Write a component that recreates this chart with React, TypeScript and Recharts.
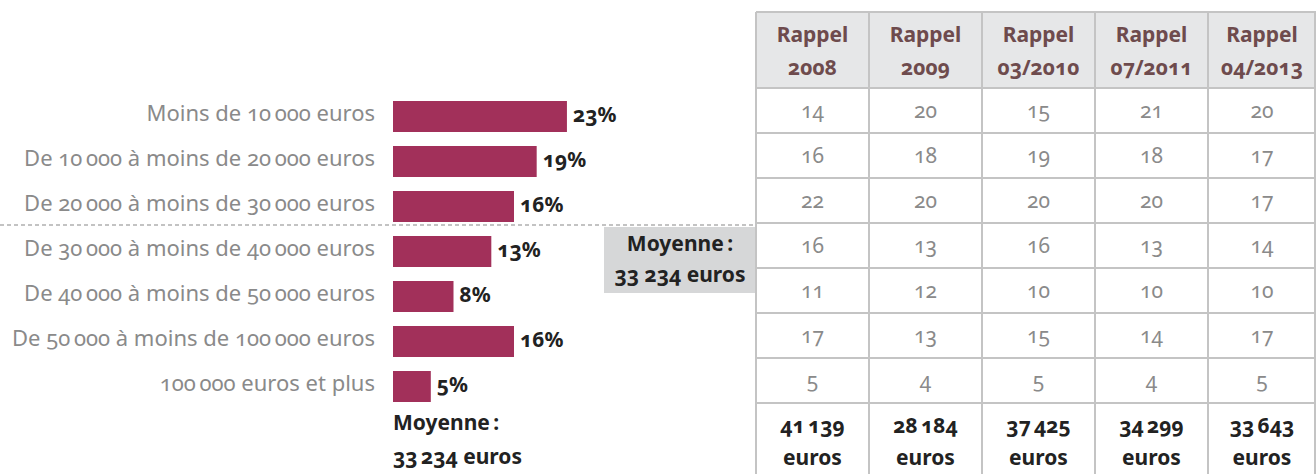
import { BarChart, Bar, XAxis, YAxis, LabelList } from 'recharts';

const categories = [
  'Moins de 10\u202f000 euros',
  'De 10\u202f000 à moins de 20\u202f000 euros',
  'De 20\u202f000 à moins de 30\u202f000 euros',
  'De 30\u202f000 à moins de 40\u202f000 euros',
  'De 40\u202f000 à moins de 50\u202f000 euros',
  'De 50\u202f000 à moins de 100\u202f000 euros',
  '100\u202f000 euros et plus',
];
const shares = [23, 19, 16, 13, 8, 16, 5];

const rappelHeaders = ['2008', '2009', '03/2010', '07/2011', '04/2013'];
const rappel2008 = [14, 16, 22, 16, 11, 17, 5];
const rappel2009 = [20, 18, 20, 13, 12, 13, 4];
const rappel2010 = [15, 19, 20, 16, 10, 15, 5];
const rappel2011 = [21, 18, 20, 13, 10, 14, 4];
const rappel2013 = [20, 17, 17, 14, 10, 17, 5];
const rappelMeans = ['41\u202f139', '28\u202f184', '37\u202f425', '34\u202f299', '33\u202f643'];

const BAR = '#a2305a';
const GRID = '#c4c4c4';
const FONT = '"Noto Sans", "Open Sans", sans-serif';

const data = categories.map((name, i) => ({ name, value: shares[i] }));
const rappelCols = [rappel2008, rappel2009, rappel2010, rappel2011, rappel2013];

const colX = [756, 869, 982, 1095, 1208, 1316];
const headerTop = 12;
const headerBottom = 88;
const rowH = 45;

export default function App() {
  return (
    <div
      style={{
        position: 'absolute',
        left: 0,
        top: 0,
        width: 1316,
        height: 474,
        overflow: 'hidden',
        background: '#fff',
        fontFamily: FONT,
        fontVariantNumeric: 'oldstyle-nums',
      }}
    >
      {/* barres */}
      <div style={{ position: 'absolute', left: 0, top: 0 }}>
        <BarChart
          width={756}
          height={474}
          data={data}
          layout="vertical"
          margin={{ top: 94, right: 0, bottom: 65, left: 0 }}
        >
          <XAxis type="number" domain={[0, 48]} hide />
          <YAxis
            type="category"
            dataKey="name"
            width={393}
            axisLine={false}
            tickLine={false}
            tickSize={0}
            tickMargin={18}
            interval={0}
            tick={{ fill: '#8a8a8a', fontSize: 22, fontFamily: FONT, dy: -3 }}
          />
          <Bar dataKey="value" fill={BAR} barSize={31} isAnimationActive={false}>
            <LabelList
              dataKey="value"
              position="right"
              offset={6}
              formatter={(v: number) => `${v}%`}
              style={{ fill: '#222', fontSize: 21, fontWeight: 700, fontFamily: FONT, transform: 'translateY(-2px)' }}
            />
          </Bar>
        </BarChart>
      </div>

      {/* séparation moyenne */}
      <svg style={{ position: 'absolute', left: 0, top: 220 }} width={756} height={10}>
        <line x1={0} y1={5} x2={756} y2={5} stroke="#b0b0b0" strokeWidth={1.5} strokeDasharray="4 3" />
      </svg>
      <div
        style={{
          position: 'absolute',
          left: 604,
          top: 227,
          width: 152,
          height: 66,
          background: '#d6d7d8',
          color: '#222',
          fontWeight: 700,
          fontSize: 21,
          textAlign: 'center',
          lineHeight: '31px',
          paddingTop: 1,
          boxSizing: 'border-box',
        }}
      >
        Moyenne&#8239;:
        <br />
        33&nbsp;234 euros
      </div>

      <div
        style={{
          position: 'absolute',
          left: 393,
          top: 405,
          color: '#222',
          fontWeight: 700,
          fontSize: 21,
          lineHeight: '34px',
        }}
      >
        Moyenne&#8239;:
        <br />
        33&#8239;234 euros
      </div>

      {/* tableau des rappels */}
      <div style={{ position: 'absolute', left: 0, top: 0 }}>
        <div
          style={{
            position: 'absolute',
            left: colX[0],
            top: headerTop,
            width: colX[5] - colX[0],
            height: headerBottom - headerTop,
            background: '#e6e7e8',
          }}
        />
        {colX.map((x, i) => (
          <div
            key={'v' + i}
            style={{
              position: 'absolute',
              left: i === colX.length - 1 ? x - 2 : x - 1,
              top: headerTop,
              width: 2,
              height: 474 - headerTop,
              background: GRID,
            }}
          />
        ))}
        {Array.from({ length: 9 }).map((_, i) => {
          const y = i === 0 ? headerTop : headerBottom + (i - 1) * rowH;
          return (
            <div
              key={'h' + i}
              style={{
                position: 'absolute',
                left: colX[0],
                top: y - 1,
                width: colX[5] - colX[0],
                height: 2,
                background: GRID,
              }}
            />
          );
        })}
        {rappelHeaders.map((h, c) => (
          <div
            key={'t' + c}
            style={{
              position: 'absolute',
              left: colX[c],
              top: headerTop + 6,
              width: colX[c + 1] - colX[c],
              textAlign: 'center',
              color: '#6e4b4d',
              fontWeight: 700,
              fontSize: 21,
              lineHeight: '33px',
            }}
          >
            Rappel
            <br />
            {h}
          </div>
        ))}
        {rappelCols.map((col, c) =>
          col.map((v, r) => (
            <div
              key={c + '-' + r}
              style={{
                position: 'absolute',
                left: colX[c],
                top: headerBottom + r * rowH,
                width: colX[c + 1] - colX[c],
                height: rowH,
                lineHeight: rowH + 'px',
                textAlign: 'center',
                color: '#8a8a8a',
                fontSize: 21,
              }}
            >
              {v}
            </div>
          ))
        )}
        {rappelMeans.map((m, c) => (
          <div
            key={'m' + c}
            style={{
              position: 'absolute',
              left: colX[c],
              top: headerBottom + 7 * rowH + 6,
              width: colX[c + 1] - colX[c],
              textAlign: 'center',
              color: '#222',
              fontWeight: 700,
              fontSize: 21,
              lineHeight: '32px',
            }}
          >
            {m}
            <br />
            euros
          </div>
        ))}
      </div>
    </div>
  );
}
